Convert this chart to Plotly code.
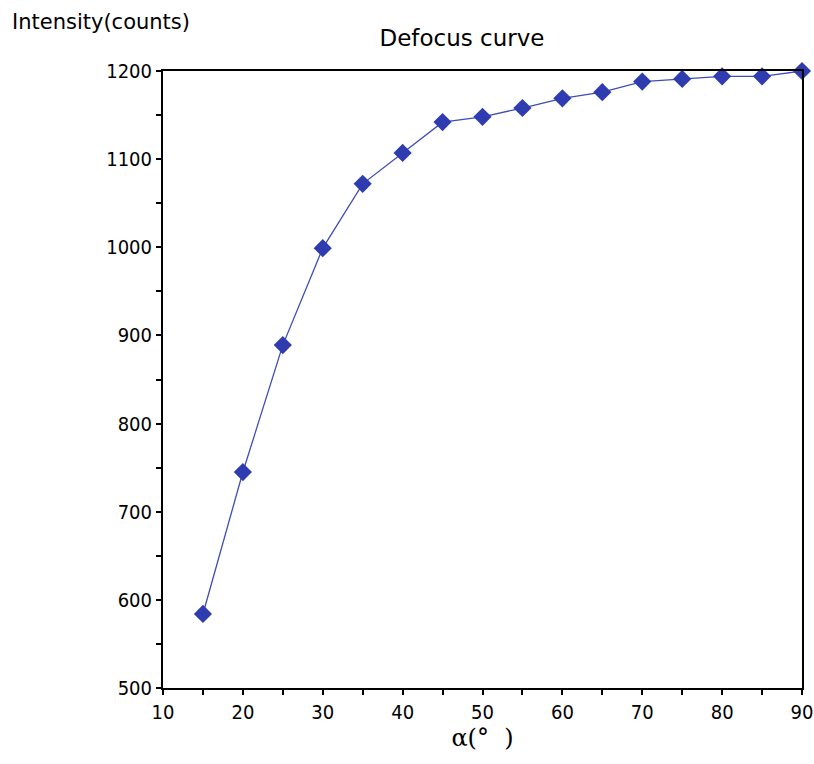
import plotly.graph_objects as go

alpha = [15, 20, 25, 30, 35, 40, 45, 50, 55, 60, 65, 70, 75, 80, 85, 90]
intensity = [584, 745, 889, 999, 1072, 1107, 1142, 1148, 1158, 1169, 1176, 1188, 1191, 1194, 1194, 1200]

fig = go.Figure()
fig.add_trace(go.Scatter(
    x=alpha, y=intensity, mode="lines+markers",
    line=dict(color="#3d4db5", width=1.3),
    marker=dict(symbol="diamond", size=14, color="#2f3cb0"),
    showlegend=False, cliponaxis=False,
))

axis_font = dict(family="DejaVu Sans Condensed, DejaVu Sans, sans-serif", size=20, color="black")

fig.update_layout(
    width=814, height=764,
    margin=dict(l=163, r=12, t=71, b=76),
    paper_bgcolor="white", plot_bgcolor="white",
    title=dict(text="Defocus curve", x=462/814, xanchor="center", y=1-38/764, yanchor="middle",
               font=dict(family="DejaVu Sans, sans-serif", size=23, color="black")),
    xaxis=dict(range=[10, 90], tickmode="linear", tick0=10, dtick=10, automargin=False,
               ticks="outside", ticklen=5, tickwidth=2, tickcolor="black",
               minor=dict(dtick=5, ticks="outside", ticklen=5, tickwidth=2, tickcolor="black"),
               showline=True, linecolor="black", linewidth=2, mirror=True,
               showgrid=False, zeroline=False, tickfont=axis_font,
               title=dict(text="α(°  )", font=dict(family="DejaVu Serif, serif", size=24, color="black"), standoff=6)),
    yaxis=dict(range=[500, 1200], tickmode="linear", tick0=500, dtick=100, automargin=False,
               ticks="outside", ticklen=5, tickwidth=2, tickcolor="black",
               minor=dict(dtick=50, ticks="outside", ticklen=5, tickwidth=2, tickcolor="black"),
               showline=True, linecolor="black", linewidth=2, mirror=True,
               showgrid=False, zeroline=False, tickfont=axis_font),
    annotations=[dict(text="Intensity(counts)",
                      x=(10-163)/(814-163-12), y=(764-22-76)/(764-71-76),
                      xref="paper", yref="paper",
                      xanchor="left", yanchor="middle", showarrow=False,
                      font=dict(family="DejaVu Sans, sans-serif", size=21, color="black"))],
)

fig.write_html("out.html")
